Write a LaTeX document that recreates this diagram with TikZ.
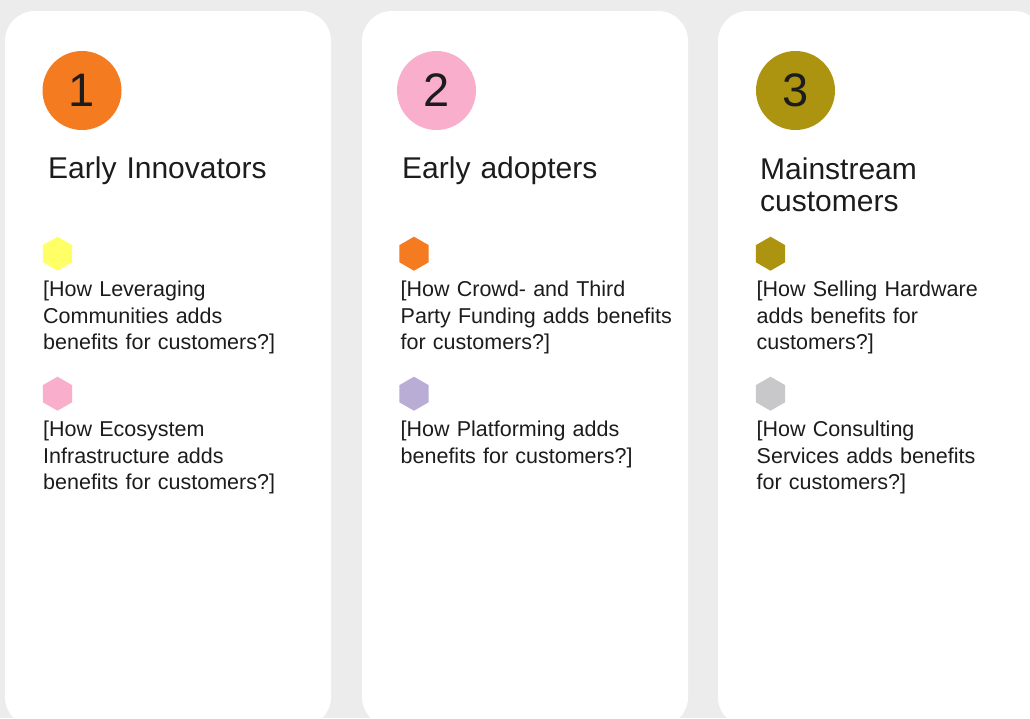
\documentclass[tikz,border=0pt]{standalone}
\usepackage{fontspec}
\setmainfont{Liberation Sans}
\usetikzlibrary{shapes.geometric}
\definecolor{bgc}{HTML}{ECECEC}
\definecolor{txt}{HTML}{1C1C1C}
\definecolor{corange}{HTML}{F47B20}
\definecolor{cpink}{HTML}{F9AFCB}
\definecolor{colive}{HTML}{AD9410}
\definecolor{cyellow}{HTML}{FFFF66}
\definecolor{cpurple}{HTML}{B9ADD5}
\definecolor{cgray}{HTML}{C8C8CA}
\tikzset{
  card/.style={fill=white, rounded corners=30pt},
  numcirc/.style={circle, minimum size=79pt, inner sep=0pt, text=txt, font=\fontsize{47}{47}\selectfont},
  hexmark/.style={regular polygon, regular polygon sides=6, shape border rotate=30, minimum size=34pt, inner sep=0pt},
  titletext/.style={anchor=base west, inner sep=0pt, text width=300pt, align=left, text=txt, font=\fontsize{30}{32}\selectfont},
  bodytext/.style={anchor=base west, inner sep=0pt, text width=300pt, align=left, text=txt, font=\fontsize{21.5}{26.3}\selectfont}
}
\begin{document}
\begin{tikzpicture}[x=1pt,y=-1pt]
\useasboundingbox (0,0) rectangle (1030,718);
\fill[bgc] (0,0) rectangle (1030,718);
\begin{scope}
\clip (0,0) rectangle (1030,718);
\fill[card] (5,11) rectangle (331,727);
\fill[card] (362,11) rectangle (688,727);
\fill[card] (718,11) rectangle (1044,727);
\end{scope}
% card 1
\node[numcirc, fill=corange] (n1) at (82,90.5) {1};
\node[titletext] (t1) at (48,178.5) {Early Innovators};
\node[hexmark, fill=cyellow] (h1a) at (57.5,253.7) {};
\node[bodytext] (b1a) at (43,296.7) {[How Leveraging\\Communities adds\\benefits for customers?]};
\node[hexmark, fill=cpink] (h1b) at (57.5,393.7) {};
\node[bodytext] (b1b) at (43,436.7) {[How Ecosystem\\Infrastructure adds\\benefits for customers?]};
% card 2
\node[numcirc, fill=cpink] (n2) at (436.5,90.5) {2};
\node[titletext] (t2) at (402,178.5) {Early adopters};
\node[hexmark, fill=corange] (h2a) at (414,253.7) {};
\node[bodytext] (b2a) at (400.5,296.7) {[How Crowd- and Third\\Party Funding adds benefits\\for customers?]};
\node[hexmark, fill=cpurple] (h2b) at (414,393.7) {};
\node[bodytext] (b2b) at (400.5,436.7) {[How Platforming adds\\benefits for customers?]};
% card 3
\node[numcirc, fill=colive] (n3) at (795.5,90.5) {3};
\node[titletext] (t3) at (760,179) {Mainstream\\customers};
\node[hexmark, fill=colive] (h3a) at (770.5,253.7) {};
\node[bodytext] (b3a) at (756.5,296.7) {[How Selling Hardware\\adds benefits for\\customers?]};
\node[hexmark, fill=cgray] (h3b) at (770.5,393.7) {};
\node[bodytext] (b3b) at (756.5,436.7) {[How Consulting\\Services adds benefits\\for customers?]};
\end{tikzpicture}
\end{document}
